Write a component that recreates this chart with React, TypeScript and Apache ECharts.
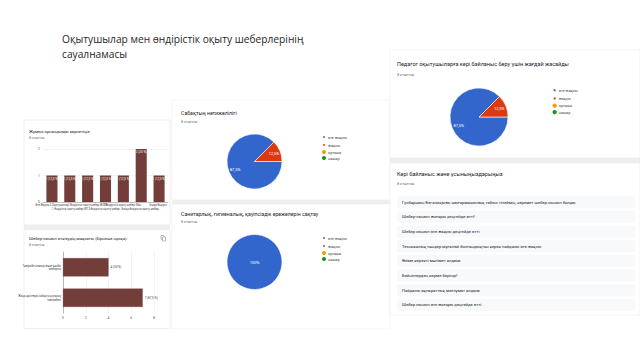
import React, { useEffect, useRef } from 'react';
import * as echarts from 'echarts';

const TOTAL = 8;
const slideTitleLines = ['Оқытушылар мен өндірістік оқыту шеберлерінің', 'сауалнамасы'];

const roleTitle = 'Жұмыс орныңызды көрсетіңіз';
const roleCategories = [
  'Өте Жақсы 0.Оқытушылар',
  '1. Өндірістік оқыту шебері ИП',
  '2.Өндірістік оқыту шебері ЖОТБ',
  '3.Өндірістік оқыту шебері ...',
  '3.Өндірістік оқыту шебері Мас...',
  'Басқа Өндірістік оқыту шебері...',
  'Басқа Өндіріс...',
];
const roleCounts = [1, 1, 1, 1, 1, 2, 1];
const roleTicks = [0, 1, 2];

const purposeTitle = 'Шебер-сынып өткізудің мақсаты (бірнеше нұсқа):';
const purposeCategories = ['Тәжірибе алмасу және кәсіби\nшеберлік', 'Жаңа әдістерді сабақта қолдану\nтәжірибесі'];
const purposeCounts = [4, 7];
const purposeTicks = [0, 2, 4, 6, 8];

const ratingNames = ['өте жақсы', 'жақсы', 'орташа', 'нашар'];
const ratingColors = ['#3366cc', '#dc3912', '#ff9900', '#109618'];

const lessonTitle = 'Сабақтың нәтижелілігі';
const lessonCounts = [7, 1, 0, 0];

const safetyTitle = 'Санитарлық, гигиеналық, қауіпсіздік ережелерін сақтау';
const safetyCounts = [8, 0, 0, 0];

const feedbackTitle = 'Педагог оқытушыларға кері байланыс беру үшін жағдай жасайды';
const feedbackCounts = [7, 1, 0, 0];

const responsesTitle = 'Кері байланыс және ұсыныңыздарыңыз';
const responses = [
  'Гүлбаршын Бегалиқызы шығармашылық табыс тілеймін, керемет шебер сынып болды',
  'Шебер-сынып жоғары деңгейде өтті!',
  'Шебер сынып өте жақсы деңгейде өтті',
  'Техникалық пәндер мұғалімі болғандықтан керек пайдасы өте жақсы',
  'Өзіме керекті мәлімет алдым',
  'Бейнелерден көрме берілді!',
  'Пайдалы ақпараттық мағлұмат алдым',
  'Шебер сынып өте жоғары деңгейде өтті.',
];
const answersLabel = `${TOTAL} ответов`;

const FONT = 'Roboto';
const pct = (v: number) => String(Math.round((v / TOTAL) * 1000) / 10).replace('.', ',');

function txt(x: number, y: number, text: string, size: number, fill: string, extra: any = {}) {
  return {
    type: 'text',
    x,
    y,
    silent: true,
    style: { text, fontSize: size, fontFamily: FONT, fill, verticalAlign: 'middle', ...extra },
  };
}
function rect(x: number, y: number, w: number, h: number, fill: string, stroke?: string) {
  return {
    type: 'rect',
    silent: true,
    shape: { x, y, width: w, height: h },
    style: { fill, stroke: stroke || 'none', lineWidth: 0.6 },
  };
}

function pieData(counts: number[], hidden = false) {
  return ratingNames.map((n, i) => ({
    name: n,
    value: counts[i],
    itemStyle: {
      color: hidden ? 'rgba(0,0,0,0)' : ratingColors[i],
      borderWidth: counts[i] > 0 && !hidden ? 0.6 : 0,
      borderColor: '#ffffff',
    },
  }));
}
const pieLabelFmt = (p: any) => (p.value ? `${String(p.percent).replace('.', ',')}%` : '');

function visiblePie(center: number[], r: number, counts: number[], centerLabel = false) {
  return {
    type: 'pie',
    center,
    radius: r,
    startAngle: 0,
    clockwise: true,
    silent: true,
    data: pieData(counts),
    label: centerLabel
      ? { show: true, position: 'center', fontSize: 4, color: '#ffffff', fontFamily: FONT, formatter: pieLabelFmt }
      : { show: false },
    labelLine: { show: false },
    emphasis: { disabled: true },
  };
}
function labelPie(center: number[], r: number, counts: number[]) {
  return {
    type: 'pie',
    center,
    radius: [0, r],
    startAngle: 0,
    clockwise: true,
    silent: true,
    z: 3,
    legendHoverLink: false,
    data: pieData(counts, true),
    label: { show: true, position: 'inside', fontSize: 4, color: '#ffffff', fontFamily: FONT, formatter: pieLabelFmt },
    labelLine: { show: false },
    emphasis: { disabled: true },
  };
}
function mkLegend(left: number, top: number, size: number, gap: number) {
  return {
    orient: 'vertical',
    left,
    top,
    padding: 0,
    itemWidth: size,
    itemHeight: size,
    itemGap: gap,
    icon: 'circle',
    selectedMode: false,
    data: ratingNames.map((n, i) => ({ name: n, itemStyle: { color: ratingColors[i] } })),
    textStyle: { fontSize: 3.8, color: '#444444', fontFamily: FONT, lineHeight: size, padding: [0, 0, 0, -3] },
  };
}

export default function App() {
  const ref = useRef<HTMLDivElement>(null);
  useEffect(() => {
    document.body.style.margin = '0';
    if (!ref.current) return;
    const chart = echarts.init(ref.current, undefined, { renderer: 'svg' });

    const graphic: any[] = [
      // cards
      rect(24, 120, 146, 105, '#ffffff', '#e4e4e4'),
      rect(24, 225, 146, 4.5, '#eeeeee'),
      rect(24, 229.5, 146, 99, '#ffffff', '#e4e4e4'),
      rect(172, 100, 218, 100, '#ffffff', '#ececec'),
      rect(172, 200, 218, 4, '#eeeeee'),
      rect(172, 204, 218, 125, '#ffffff', '#ececec'),
      rect(390, 50, 250, 108, '#ffffff', '#ececec'),
      rect(390, 158, 250, 5, '#eeeeee'),
      rect(390, 163, 250, 152, '#ffffff', '#ececec'),
      // slide title
      {
        type: 'text',
        x: 62,
        y: 39,
        silent: true,
        style: { text: slideTitleLines[0], fontSize: 10.2, fontFamily: 'Open Sans', fill: '#262626', verticalAlign: 'middle' },
      },
      {
        type: 'text',
        x: 62,
        y: 53.5,
        silent: true,
        style: { text: slideTitleLines[1], fontSize: 10.2, fontFamily: 'Open Sans', fill: '#262626', verticalAlign: 'middle' },
      },
      // card titles
      txt(29, 131, roleTitle, 4.2, '#202124'),
      txt(29, 138, answersLabel, 3.4, '#70757a'),
      txt(29, 238, purposeTitle, 4.2, '#202124'),
      txt(29, 245, answersLabel, 3.4, '#70757a'),
      txt(181, 113, lessonTitle, 5.2, '#202124'),
      txt(181, 122, answersLabel, 3.6, '#70757a'),
      txt(181, 214, safetyTitle, 5.2, '#202124'),
      txt(181, 222, answersLabel, 3.6, '#70757a'),
      txt(397, 64, feedbackTitle, 5.5, '#202124'),
      txt(397, 74, answersLabel, 3.8, '#70757a'),
      txt(397, 174, responsesTitle, 5.5, '#202124'),
      txt(397, 183, answersLabel, 3.8, '#70757a'),
      // copy icon
      { type: 'rect', silent: true, shape: { x: 161, y: 235.5, width: 3, height: 4, r: 0.5 }, style: { fill: '#ffffff', stroke: '#8a8a8a', lineWidth: 0.6 } },
      { type: 'rect', silent: true, shape: { x: 162.5, y: 237, width: 3, height: 4, r: 0.5 }, style: { fill: '#ffffff', stroke: '#8a8a8a', lineWidth: 0.6 } },
    ];
    responses.forEach((r, i) => {
      const cy = 202 + i * 14.7;
      graphic.push(rect(397, cy - 6, 238, 12, '#f8f9fa'));
      graphic.push(txt(402, cy, r, 4.2, '#202124'));
    });

    const option: any = {
      animation: false,
      backgroundColor: '#ffffff',
      textStyle: { fontFamily: FONT },
      graphic,
      grid: [
        { left: 43, top: 149, width: 125, height: 53 },
        { left: 63, top: 252, width: 91, height: 61 },
      ],
      xAxis: [
        {
          gridIndex: 0,
          type: 'category',
          data: roleCategories,
          axisTick: { show: false },
          axisLine: { lineStyle: { color: '#9e9e9e', width: 0.6 } },
          axisLabel: {
            interval: 0,
            fontSize: 2.6,
            lineHeight: 4,
            color: '#444444',
            margin: 2,
            formatter: (v: string, i: number) => (i % 2 ? '\n' + v : v),
          },
        },
        {
          gridIndex: 1,
          type: 'value',
          min: purposeTicks[0],
          max: purposeTicks[purposeTicks.length - 1],
          interval: 2,
          axisLine: { show: false },
          axisTick: { show: false },
          splitLine: { lineStyle: { color: '#e6e6e6', width: 0.5 } },
          axisLabel: { fontSize: 3.4, color: '#555555', margin: 3 },
        },
      ],
      yAxis: [
        {
          gridIndex: 0,
          type: 'value',
          min: roleTicks[0],
          max: roleTicks[roleTicks.length - 1],
          interval: 1,
          splitLine: { lineStyle: { color: '#e6e6e6', width: 0.5 } },
          axisLabel: { fontSize: 3.4, color: '#555555', margin: 3 },
        },
        {
          gridIndex: 1,
          type: 'category',
          data: purposeCategories,
          inverse: true,
          axisTick: { show: false },
          axisLine: { lineStyle: { color: '#9e9e9e', width: 0.7 } },
          axisLabel: { fontSize: 2.8, lineHeight: 3.6, color: '#444444', margin: 2, align: 'right' },
        },
      ],
      legend: [mkLegend(321, 134, 4, 2), mkLegend(321, 235, 4, 2), mkLegend(551.5, 87, 4.3, 2)],
      series: [
        {
          type: 'bar',
          xAxisIndex: 0,
          yAxisIndex: 0,
          data: roleCounts,
          barWidth: '62%',
          silent: true,
          itemStyle: { color: '#733d3a' },
          label: {
            show: true,
            position: 'insideTop',
            distance: 1.5,
            fontSize: 3,
            color: '#ffffff',
            formatter: (p: any) => `${p.value} (${pct(p.value)} %)`,
          },
        },
        {
          type: 'bar',
          xAxisIndex: 1,
          yAxisIndex: 1,
          data: purposeCounts,
          barWidth: '60%',
          silent: true,
          itemStyle: { color: '#733d3a', borderColor: '#5c2e2b', borderWidth: 0.3 },
          label: {
            show: true,
            position: 'right',
            distance: 2,
            fontSize: 3,
            color: '#444444',
            formatter: (p: any) => `${p.value} (${pct(p.value)} %)`,
          },
        },
        visiblePie([254.5, 161.5], 27.5, lessonCounts),
        visiblePie([254.5, 262], 27.5, safetyCounts, true),
        visiblePie([479, 117], 29, feedbackCounts),
        labelPie([254.5, 161.5], 36, lessonCounts),
        labelPie([479, 117], 38, feedbackCounts),
      ],
    };
    chart.setOption(option);
    return () => chart.dispose();
  }, []);
  return <div ref={ref} style={{ width: 640, height: 360 }} />;
}
